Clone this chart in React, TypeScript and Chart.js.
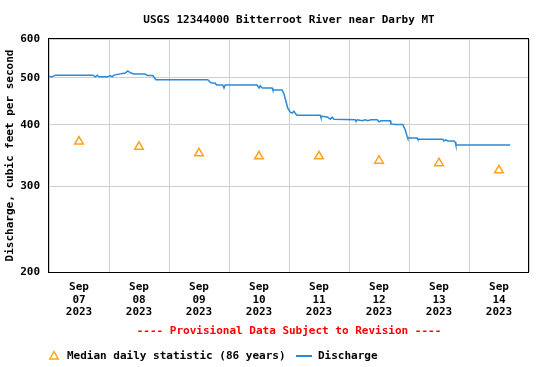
import React, { useEffect, useRef } from 'react';
import { Chart, registerables } from 'chart.js';

Chart.register(...registerables);

// ---- text ----
const TITLE = 'USGS 12344000 Bitterroot River near Darby MT';
const Y_TITLE = 'Discharge, cubic feet per second';
const PROVISIONAL = '---- Provisional Data Subject to Revision ----';
const MEDIAN_LABEL = 'Median daily statistic (86 years)';
const DISCHARGE_LABEL = 'Discharge';

// ---- categories / ticks ----
const MONTH = 'Sep';
const YEAR = '2023';
const dayLabels = ['07', '08', '09', '10', '11', '12', '13', '14'];
const yTickValues = [200, 300, 400, 500, 600];

// ---- series: median daily statistic (one per day, at noon) ----
const medianCfs = [370, 361, 350, 345, 345, 338, 334, 323];

// ---- series: discharge (day hh:mm, cfs) ----
const dischargeTimes = [
  '07 00:00', '07 01:15', '07 02:30', '07 17:30', '07 18:30', '07 19:15', '07 20:00', '07 23:30',
  '08 00:30', '08 01:15', '08 02:00', '08 04:30', '08 06:30', '08 07:30', '08 08:45', '08 10:00',
  '08 14:30', '08 15:15', '08 17:30', '08 18:45',
  '09 15:30', '09 16:45', '09 18:30', '09 19:00', '09 21:30', '09 22:00', '09 22:30',
  '10 11:15', '10 12:00', '10 12:30', '10 13:15', '10 17:15', '10 17:30', '10 21:15', '10 22:00',
  '10 22:45', '10 23:30',
  '11 00:30', '11 01:15', '11 02:00', '11 02:45', '11 03:15', '11 12:30', '11 12:45', '11 13:30',
  '11 15:30', '11 16:30', '11 17:15', '11 18:00',
  '12 02:30', '12 02:45', '12 03:30', '12 05:15', '12 06:30', '12 07:30', '12 08:45', '12 11:15',
  '12 12:00', '12 12:45', '12 16:30', '12 16:45', '12 18:30', '12 21:30', '12 22:30', '12 23:15',
  '12 23:30',
  '13 03:15', '13 03:30', '13 13:30', '13 14:00', '13 14:45', '13 15:30', '13 18:00', '13 18:30',
  '13 18:45',
  '14 16:30',
];
const dischargeCfs = [
  503, 502, 506, 506, 502, 506, 502, 502,
  505, 502, 506, 509, 511, 516, 511, 509,
  509, 505, 505, 495,
  495, 488, 487, 483, 483, 476, 483,
  483, 476, 481, 476, 476, 472, 472, 463,
  448, 433,
  425, 423, 427, 421, 419, 419, 415, 417,
  415, 411, 415, 411,
  410, 408, 410, 408, 410, 408, 410, 410,
  406, 408, 408, 402, 401, 401, 391, 379,
  376,
  376, 374, 374, 371, 373, 371, 371, 369,
  364,
  364,
];

const FONT = '"DejaVu Sans Mono", "Liberation Mono", monospace';
const FIRST_DAY = 7;

function toHours(t: string): number {
  const [d, hm] = t.split(' ');
  const [h, m] = hm.split(':');
  return (parseInt(d, 10) - FIRST_DAY) * 24 + parseInt(h, 10) + parseInt(m, 10) / 60;
}

const BLUE = '#2a8ad8';
const ORANGE = '#ffa21c';
const GRID = '#cfcfcf';

const decorPlugin = {
  id: 'decor',
  afterDraw(chart: any) {
    const { ctx, chartArea } = chart;
    const { left, right, top, bottom } = chartArea;
    const cx = (left + right) / 2;
    ctx.save();
    // frame
    ctx.strokeStyle = '#000';
    ctx.lineWidth = 1;
    ctx.strokeRect(left - 0.5, top - 0.5, right - left, bottom - top + 1);
    // title
    ctx.font = `bold 11px ${FONT}`;
    ctx.fillStyle = '#000';
    ctx.textAlign = 'center';
    ctx.textBaseline = 'middle';
    ctx.fillText(TITLE, cx, 20);
    // provisional
    ctx.fillStyle = '#ff0000';
    ctx.fillText(PROVISIONAL, cx, 331);
    // legend
    const ly = 356;
    ctx.strokeStyle = ORANGE;
    ctx.lineWidth = 1.5;
    ctx.beginPath();
    ctx.moveTo(54, ly - 4.5);
    ctx.lineTo(58.2, ly + 3);
    ctx.lineTo(49.8, ly + 3);
    ctx.closePath();
    ctx.stroke();
    ctx.fillStyle = '#000';
    ctx.textAlign = 'left';
    ctx.fillText(MEDIAN_LABEL, 67, ly);
    ctx.strokeStyle = BLUE;
    ctx.lineWidth = 2;
    ctx.beginPath();
    ctx.moveTo(296, ly);
    ctx.lineTo(312, ly);
    ctx.stroke();
    ctx.fillText(DISCHARGE_LABEL, 318, ly);
    ctx.restore();
  },
};

export default function App() {
  const ref = useRef<HTMLCanvasElement | null>(null);

  useEffect(() => {
    if (!ref.current) return;
    const discharge = dischargeTimes.map((t, i) => ({ x: toHours(t), y: dischargeCfs[i] }));
    const median = medianCfs.map((v, i) => ({ x: i * 24 + 12, y: v }));
    const tickFont = { family: FONT, size: 11, weight: 'bold' as const, lineHeight: '12.5px' };

    const chart = new Chart(ref.current, {
      type: 'line',
      data: {
        datasets: [
          {
            label: DISCHARGE_LABEL,
            data: discharge,
            borderColor: BLUE,
            borderWidth: 1.5,
            pointRadius: 0,
            tension: 0,
            fill: false,
          },
          {
            label: MEDIAN_LABEL,
            data: median,
            showLine: false,
            pointStyle: 'triangle',
            pointRadius: 5,
            pointBorderWidth: 1.5,
            pointBorderColor: ORANGE,
            pointBackgroundColor: 'rgba(0,0,0,0)',
            borderColor: ORANGE,
            backgroundColor: 'rgba(0,0,0,0)',
          },
        ],
      },
      options: {
        animation: false,
        responsive: false,
        devicePixelRatio: 1,
        layout: { padding: { top: 39, right: 21, left: 0, bottom: 0 } },
        plugins: {
          legend: { display: false },
          title: { display: false },
          tooltip: { enabled: false },
        },
        scales: {
          x: {
            type: 'linear',
            min: 0,
            max: dayLabels.length * 24,
            afterBuildTicks: (s: any) => {
              const arr: any[] = [];
              for (let v = 0; v <= dayLabels.length * 24; v += 12) arr.push({ value: v });
              s.ticks = arr;
            },
            afterFit: (s: any) => {
              s.height = 95;
            },
            ticks: {
              autoSkip: false,
              maxRotation: 0,
              minRotation: 0,
              padding: 9,
              color: '#000',
              font: tickFont,
              callback: (v: any) => {
                const n = Number(v);
                if (n % 24 !== 12) return '';
                const i = (n - 12) / 24;
                return [MONTH, dayLabels[i], YEAR];
              },
            },
            grid: {
              drawTicks: false,
              lineWidth: 1,
              color: (c: any) => (c.tick && c.tick.value % 24 === 0 ? GRID : 'rgba(0,0,0,0)'),
            },
            border: { display: false },
          },
          y: {
            type: 'logarithmic',
            min: 200,
            max: 600,
            afterBuildTicks: (s: any) => {
              s.ticks = yTickValues.map((v) => ({ value: v }));
            },
            afterFit: (s: any) => {
              s.width = 49;
            },
            ticks: {
              padding: 9,
              color: '#000',
              font: tickFont,
              callback: (v: any) => String(v),
            },
            grid: { drawTicks: false, color: GRID, lineWidth: 1 },
            border: { display: false },
            title: {
              display: true,
              text: Y_TITLE,
              color: '#000',
              font: { family: FONT, size: 11, weight: 'bold' },
              padding: { top: 4, bottom: 0 },
            },
          },
        },
      },
      plugins: [decorPlugin],
    } as any);

    return () => chart.destroy();
  }, []);

  return (
    <div style={{ position: 'fixed', left: 0, top: 0, width: 550, height: 367, background: '#fff' }}>
      <canvas ref={ref} width={550} height={367} style={{ width: 550, height: 367, display: 'block' }} />
    </div>
  );
}
